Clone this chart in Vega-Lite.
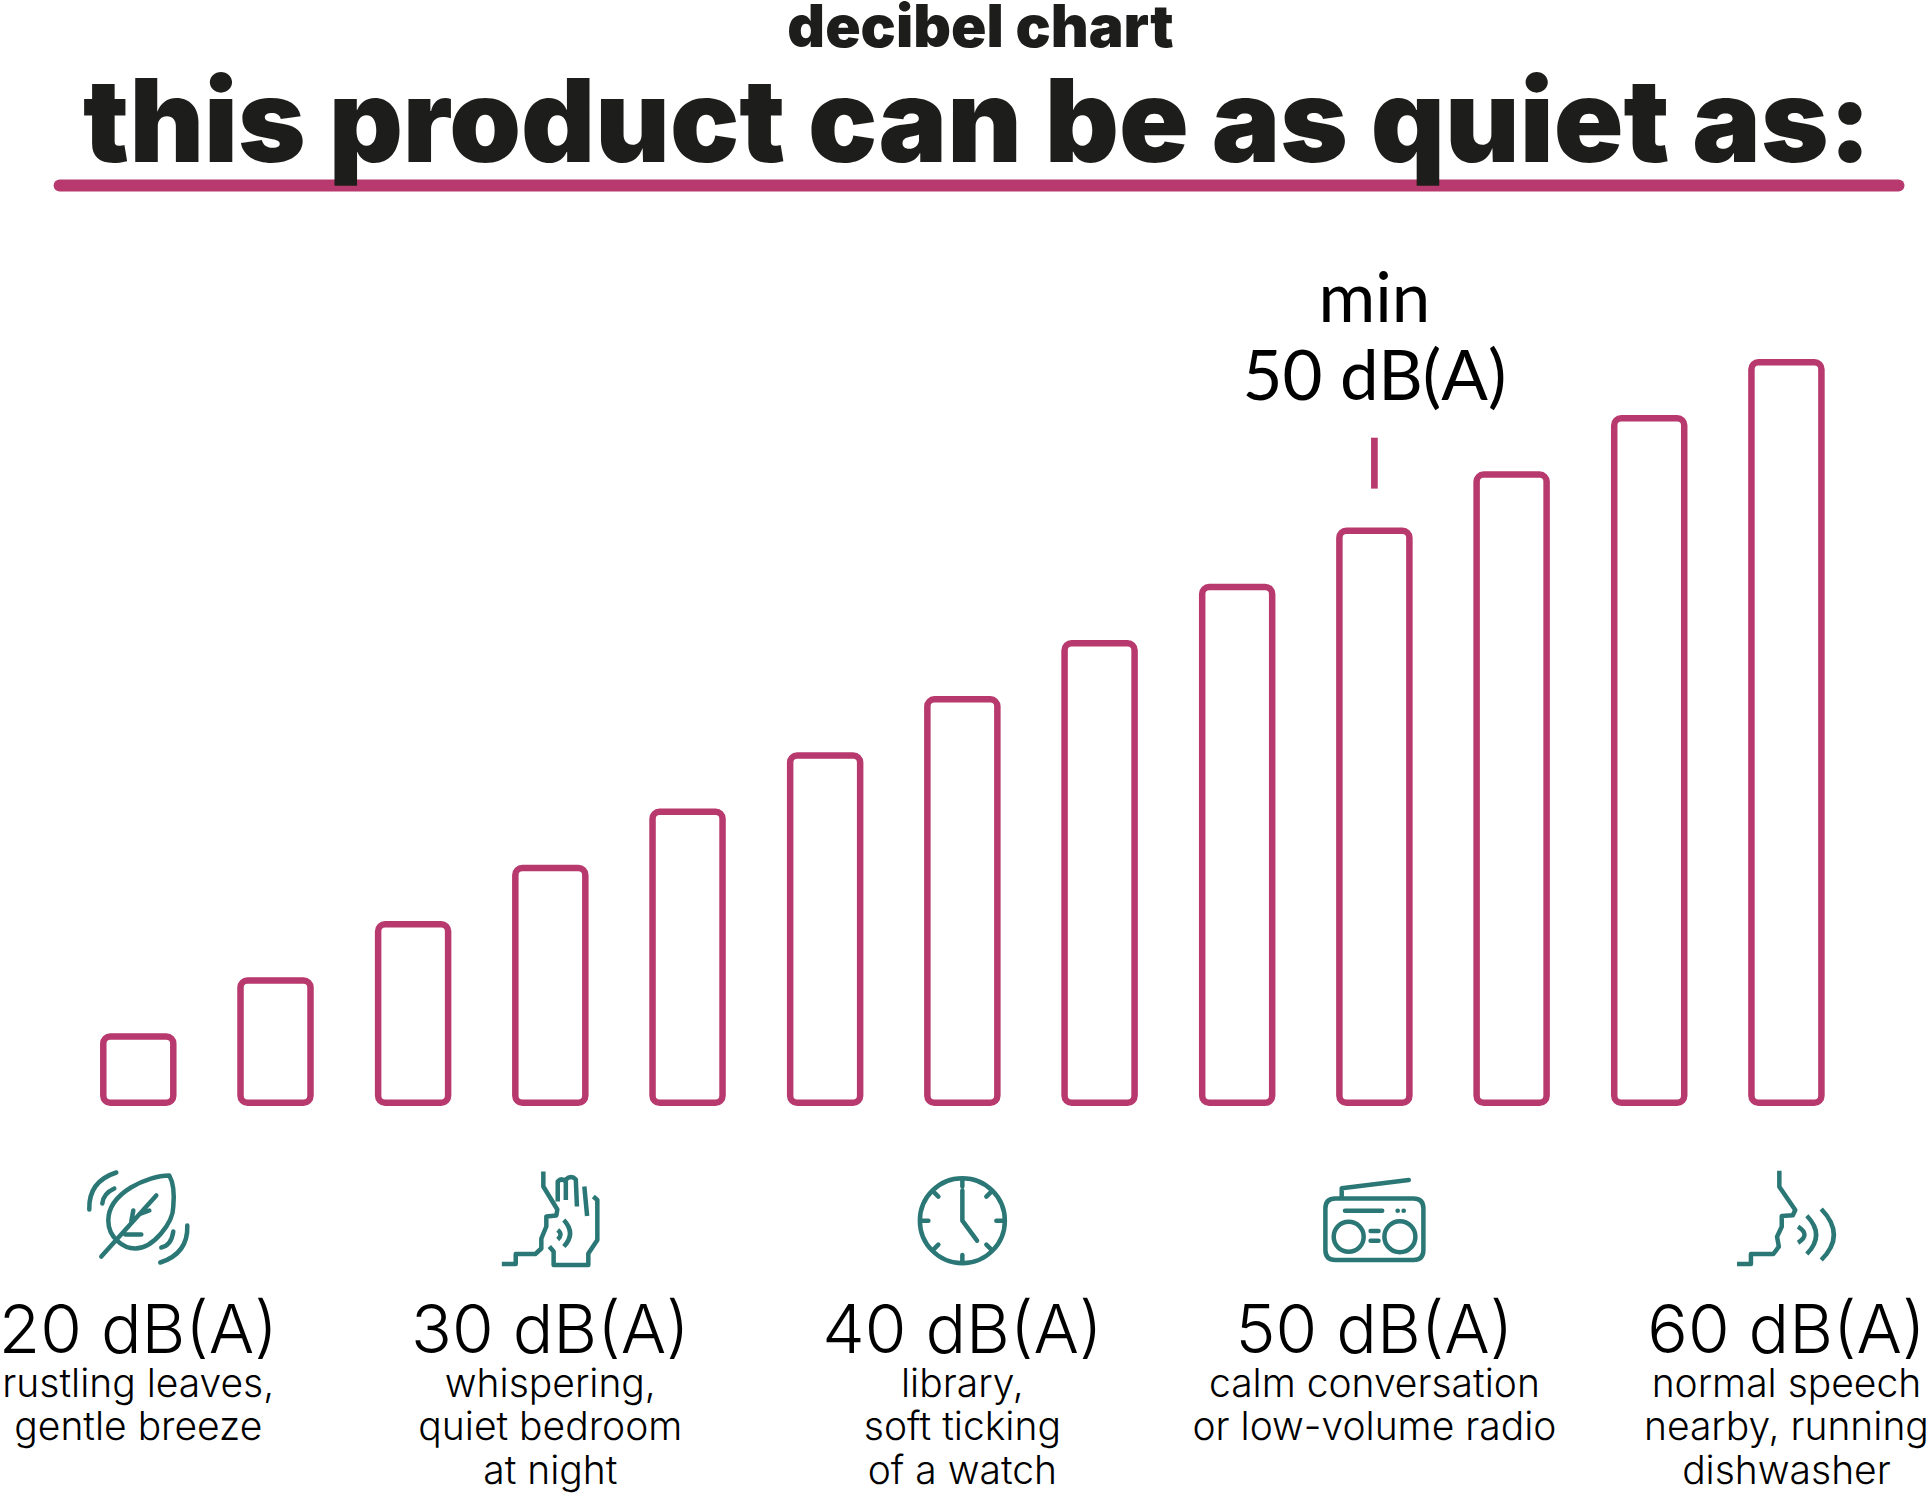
{
  "$schema": "https://vega.github.io/schema/vega-lite/v6.json",
  "width": 1930,
  "height": 1493,
  "padding": 0,
  "autosize": {"type": "none"},
  "background": "white",
  "view": {"stroke": null},
  "datasets": {
    "bars": [
      {"db": 20}, {"db": 23.33}, {"db": 26.67}, {"db": 30}, {"db": 33.33}, {"db": 36.67}, {"db": 40},
      {"db": 43.33}, {"db": 46.67}, {"db": 50}, {"db": 53.33}, {"db": 56.67}, {"db": 60}
    ],
    "labels": [
      {"db": 20, "label": "20 dB(A)", "note": ["rustling leaves,", "gentle breeze"]},
      {"db": 30, "label": "30 dB(A)", "note": ["whispering,", "quiet bedroom", "at night"]},
      {"db": 40, "label": "40 dB(A)", "note": ["library,", "soft ticking", "of a watch"]},
      {"db": 50, "label": "50 dB(A)", "note": ["calm conversation", "or low-volume radio"]},
      {"db": 60, "label": "60 dB(A)", "note": ["normal speech", "nearby, running", "dishwasher"]}
    ],
    "minimum": [{"db": 50, "note": ["min", "50 dB(A)"]}],
    "headline": [{"text": "this product can be as quiet as:"}],
    "kicker": [{"text": "decibel chart"}]
  },
  "data": {"name": "bars"},
  "layer": [
    {
      "mark": {"type": "bar", "width": 70, "fillOpacity": 0, "stroke": "#b8396d", "strokeWidth": 6.5, "cornerRadius": 7},
      "encoding": {
        "x": {"field": "db", "type": "quantitative", "axis": null, "scale": {"domain": [16.765, 63.363], "nice": false, "zero": false}},
        "y": {"field": "db", "type": "quantitative", "axis": null, "scale": {"domain": [-7.07, 81.48], "nice": false, "zero": false}},
        "y2": {"datum": 16.07}
      }
    },
    {
      "data": {"name": "kicker"},
      "mark": {"type": "rule", "stroke": "#b8396d", "strokeWidth": 12, "strokeCap": "round"},
      "encoding": {
        "x": {"datum": 18.09, "type": "quantitative"},
        "x2": {"datum": 62.72},
        "y": {"datum": 70.48, "type": "quantitative"}
      }
    },
    {
      "data": {"name": "minimum"},
      "mark": {"type": "rule", "stroke": "#b8396d", "strokeWidth": 6.7},
      "encoding": {
        "x": {"field": "db", "type": "quantitative"},
        "y": {"datum": 55.52, "type": "quantitative"},
        "y2": {"datum": 52.5}
      }
    },
    {
      "data": {"name": "minimum"},
      "mark": {"type": "text", "font": "Lato", "fontWeight": 400, "fontSize": 69, "lineHeight": 77.7, "align": "center", "baseline": "alphabetic", "fill": "#000000"},
      "encoding": {
        "x": {"field": "db", "type": "quantitative"},
        "y": {"datum": 62.39, "type": "quantitative"},
        "text": {"field": "note"}
      }
    },
    {
      "data": {"name": "headline"},
      "mark": {"type": "text", "font": "Inter", "fontWeight": 900, "fontSize": 115, "align": "center", "baseline": "alphabetic", "fill": "#1d1d1b"},
      "encoding": {
        "x": {"datum": 40.36, "type": "quantitative"},
        "y": {"datum": 71.87, "type": "quantitative"},
        "text": {"field": "text"}
      }
    },
    {
      "data": {"name": "kicker"},
      "mark": {"type": "text", "font": "Inter", "fontWeight": 900, "fontSize": 58.5, "align": "center", "baseline": "alphabetic", "fill": "#1d1d1b"},
      "encoding": {
        "x": {"datum": 40.44, "type": "quantitative"},
        "y": {"datum": 78.71, "type": "quantitative"},
        "text": {"field": "text"}
      }
    },
    {
      "data": {"name": "labels"},
      "mark": {"type": "text", "font": "Inter", "fontWeight": 300, "fontSize": 67.5, "align": "center", "baseline": "alphabetic", "fill": "#000000"},
      "encoding": {
        "x": {"field": "db", "type": "quantitative"},
        "y": {"datum": 1.25, "type": "quantitative"},
        "text": {"field": "label"}
      }
    },
    {
      "data": {"name": "labels"},
      "mark": {"type": "text", "font": "Inter", "fontWeight": 300, "fontSize": 39, "lineHeight": 43.7, "align": "center", "baseline": "alphabetic", "fill": "#000000"},
      "encoding": {
        "x": {"field": "db", "type": "quantitative"},
        "y": {"datum": -1.36, "type": "quantitative"},
        "text": {"field": "note"}
      }
    },
    {
      "data": {"name": "labels"},
      "transform": [{"filter": "datum.db == 20"}],
      "mark": {"type": "point", "filled": false, "opacity": 1, "size": 4, "stroke": "#2a7776", "strokeWidth": 4.5, "strokeCap": "round", "strokeJoin": "round",
        "shape": "M31,-42 C10,-42 -30,-25 -30,3 C-30,20 -15,31 -3,31 C15,31 35,5 35,-11 C36,-22 35,-35 31,-42 Z M-37,39 L18,-22 M-5,-7 L-7,4 M11,-7 L3,-4 M3,17 L-13,17 M-22,-45 Q-50,-36 -49,-8 M-24,-29 Q-35,-24 -36,-14 M49,8 Q50,36 22,45 M35,14 Q33,28 23,30"},
      "encoding": {
        "x": {"field": "db", "type": "quantitative"},
        "y": {"datum": 9.27, "type": "quantitative"}
      }
    },
    {
      "data": {"name": "labels"},
      "transform": [{"filter": "datum.db == 30"}],
      "mark": {"type": "point", "filled": false, "opacity": 1, "size": 4, "stroke": "#2a7776", "strokeWidth": 4.5, "strokeCap": "butt", "strokeJoin": "round",
        "shape": "M-7,-46 L-7,-31 L7,-8 L6,-2 L-4,-1 L-4,9 L-9,21 L-9,31 L-15,36.5 L-34.6,36.5 L-34.6,46.5 L-48.5,46.5 M-1,29 L3.3,34 L3.3,47.5 L38,47.5 L38,36 L47,22.5 L47,-17.5 L43,-21 M7.4,-16 L7.4,-36 Q11,-40 15.5,-36 L15.5,-17.5 M15.5,-38 Q21,-43 25.5,-38 L26.6,-11 M34,-31 L36.8,-1.5 M13.5,2.5 Q26,16 13.5,29 M7.4,12.5 Q13,17 7.4,22"},
      "encoding": {
        "x": {"field": "db", "type": "quantitative"},
        "y": {"datum": 9.27, "type": "quantitative"}
      }
    },
    {
      "data": {"name": "labels"},
      "transform": [{"filter": "datum.db == 40"}],
      "mark": {"type": "point", "filled": false, "opacity": 1, "size": 4, "stroke": "#2a7776", "strokeWidth": 4.5, "strokeCap": "round", "strokeJoin": "round",
        "shape": "M-42.5,3.2 A42.5,42.5 0 1 1 42.5,3.2 A42.5,42.5 0 1 1 -42.5,3.2 Z M0,-27 L0,3.2 L14.7,23.2 M0,-39 L0,-31 M0,37.5 L0,45 M-42,3.2 L-34,3.2 M34,3.2 L42,3.2 M-30,-26.8 L-24,-20.8 M30,-26.8 L24,-20.8 M-30,33.2 L-24,27.2 M30,33.2 L24,27.2"},
      "encoding": {
        "x": {"field": "db", "type": "quantitative"},
        "y": {"datum": 9.27, "type": "quantitative"}
      }
    },
    {
      "data": {"name": "labels"},
      "transform": [{"filter": "datum.db == 50"}],
      "mark": {"type": "point", "filled": false, "opacity": 1, "size": 4, "stroke": "#2a7776", "strokeWidth": 4.5, "strokeCap": "round", "strokeJoin": "round",
        "shape": "M-39,-19 L39,-19 Q49,-19 49,-9 L49,32.5 Q49,42.5 39,42.5 L-39,42.5 Q-49,42.5 -49,32.5 L-49,-9 Q-49,-19 -39,-19 Z M-32.7,-20 L-32.7,-29.2 L34.4,-37.5 M-29.4,-6.8 L7.8,-6.8 M23.2,-6.8 L23.4,-6.8 M29.2,-6.8 L29.4,-6.8 M-40.7,19.2 A15,15 0 1 1 -10.7,19.2 A15,15 0 1 1 -40.7,19.2 Z M10,19.2 A15.5,15.5 0 1 1 41,19.2 A15.5,15.5 0 1 1 10,19.2 Z M-3.8,13.5 L4.1,13.5 M-3.8,23.2 L4.1,23.2"},
      "encoding": {
        "x": {"field": "db", "type": "quantitative"},
        "y": {"datum": 9.27, "type": "quantitative"}
      }
    },
    {
      "data": {"name": "labels"},
      "transform": [{"filter": "datum.db == 60"}],
      "mark": {"type": "point", "filled": false, "opacity": 1, "size": 4, "stroke": "#2a7776", "strokeWidth": 4.5, "strokeCap": "butt", "strokeJoin": "round",
        "shape": "M-7.1,-46.8 L-7.1,-30.8 L8.8,-7.5 L6.4,-2.2 L-4.7,-1.5 L-4.7,9.2 L-9.4,19.2 L-7.6,29.2 L-13.1,36.5 L-35.5,36.5 L-35.5,46.5 L-49.4,46.5 M11.6,9.2 Q24.5,17.5 11.6,25.2 M20.4,-1.8 Q39,17.5 20.4,36.5 M34.8,-8.5 Q60,17.5 34.8,42.5"},
      "encoding": {
        "x": {"field": "db", "type": "quantitative"},
        "y": {"datum": 9.27, "type": "quantitative"}
      }
    }
  ]
}
